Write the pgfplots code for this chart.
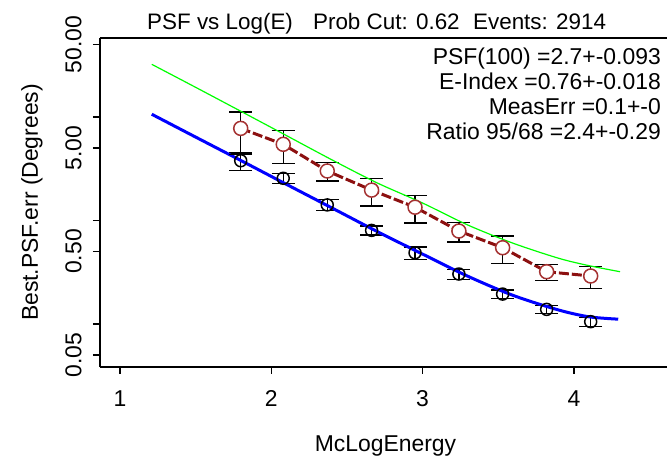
\documentclass[border=0pt]{standalone}
\usepackage{pgfplots}
\pgfplotsset{compat=1.18}
\usepackage{fontspec}
\setmainfont{Liberation Sans}
\definecolor{fitblue}{RGB}{0,0,255}
\definecolor{fitgreen}{RGB}{0,255,0}
\definecolor{psfline}{RGB}{140,16,16}
\definecolor{psfmark}{RGB}{165,50,50}

% x, y, error
\pgfplotstableread{
x y e
1.798 7.74 3.4
2.079 5.43 1.9
2.370 3.00 0.6
2.663 1.96 0.58
2.950 1.34 0.40
3.240 0.789 0.17
3.529 0.544 0.16
3.820 0.319 0.058
4.111 0.290 0.07
}\psfbest
\pgfplotstableread{
x y e
1.798 3.77 0.72
2.079 2.55 0.27
2.370 1.41 0.17
2.663 0.80 0.08
2.950 0.486 0.068
3.240 0.303 0.033
3.529 0.194 0.019
3.820 0.138 0.013
4.111 0.105 0.011
}\psfcore

\begin{document}
\begin{tikzpicture}
\useasboundingbox (-100bp,-91bp) rectangle (567bp,367bp);
\begin{axis}[
  at={(0,0)}, anchor=south west,
  scale only axis, width=568bp, height=329bp,
  xmin=0.868, xmax=4.622,
  ymode=log, ymin=0.0383, ymax=57.8,
  axis x line*=box, axis y line*=left,
  axis line style={-, line width=1.8bp},
  xtick={1,2,3,4}, xticklabels={1,2,3,4},
  ytick={0.05,0.1,0.5,1,5,10,50},
  yticklabels={0.05,,0.50,,5.00,,50.00},
  minor tick num=0, yminorticks=false,
  xtick pos=bottom, ytick pos=left,
  tick align=outside, major tick length=7bp,
  tick style={black, line width=1.3bp},
  tick label style={font=\fontsize{23}{26}\selectfont},
  xticklabel shift=13bp,
  yticklabel style={rotate=90, anchor=south},
  yticklabel shift=8bp,
  ylabel={Best.PSF.err (Degrees)},
  ylabel style={font=\fontsize{23}{26}\selectfont, at={(axis description cs:-0.1197,0.5)}, anchor=center},
  clip=false,
]
% core width points
\addplot[only marks, mark=o, mark size=6bp, mark options={black, line width=1.5bp},
  error bars/.cd, y dir=both, y explicit,
  error bar style={black, line width=1.3bp},
  error mark options={rotate=90, black, mark size=11.5bp, line width=1.3bp}]
  table[x=x, y=y, y error=e] {\psfcore};
% fit to core
\addplot[fitblue, line width=3bp, smooth] coordinates {
  (1.21,10.6) (1.5,6.38) (1.8,3.78) (2.1,2.23) (2.4,1.32) (2.7,0.78)
  (3.0,0.472) (3.3,0.288) (3.6,0.188) (3.9,0.136) (4.1,0.117) (4.293,0.111)
};
% best points
\addplot[psfline, line width=3bp, dash pattern=on 10bp off 3bp] table[x=x, y=y] {\psfbest};
\addplot[only marks, mark=none,
  error bars/.cd, y dir=both, y explicit,
  error bar style={black, line width=1.3bp},
  error mark options={rotate=90, black, mark size=11.5bp, line width=1.3bp}]
  table[x=x, y=y, y error=e] {\psfbest};
\addplot[only marks, mark=*, mark size=7bp, mark options={draw=psfmark, fill=white, line width=1.5bp}]
  table[x=x, y=y] {\psfbest};
% 95 percent fit
\addplot[fitgreen, line width=1.2bp, smooth] coordinates {
  (1.21,32.2) (1.5,19.3) (1.8,11.3) (2.1,6.6) (2.4,3.85) (2.7,2.3)
  (3.0,1.47) (3.3,0.9) (3.6,0.6) (3.9,0.43) (4.1,0.365) (4.305,0.319)
};
\end{axis}
\node[anchor=base west, font=\fontsize{22.5}{26}\selectfont, inner sep=0] at (47bp,337bp)
  {PSF vs Log(E)\hspace{0.9em}Prob Cut: 0.62\hspace{0.6em}Events: 2914};
\node[anchor=north east, align=right, font=\fontsize{23}{25}\selectfont, inner sep=0] at (561bp,319bp)
  {PSF(100) =2.7+-0.093\\E-Index =0.76+-0.018\\MeasErr =0.1+-0\\Ratio 95/68 =2.4+-0.29};
\node[anchor=base, font=\fontsize{23}{26}\selectfont, inner sep=0] at (285.5bp,-84bp) {McLogEnergy};
\end{tikzpicture}
\end{document}
